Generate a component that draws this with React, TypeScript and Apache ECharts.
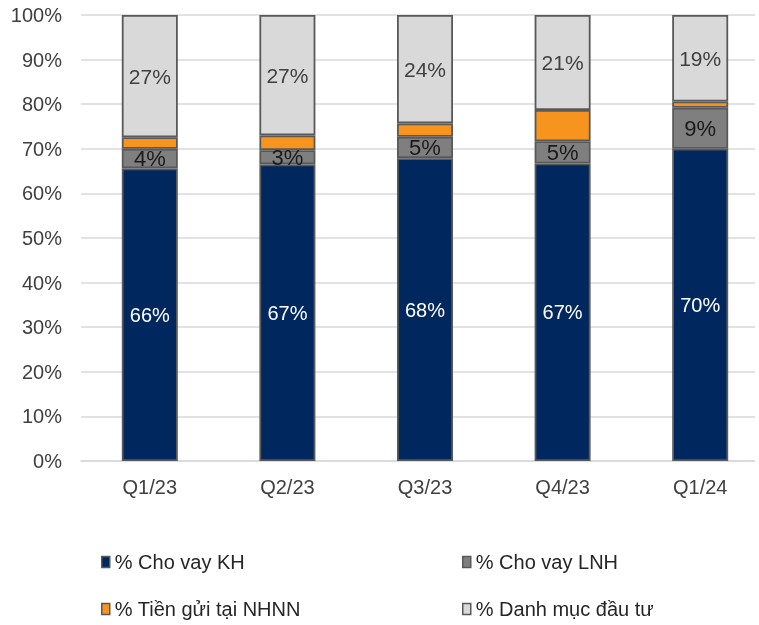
import React, { useEffect, useRef } from "react";
import * as echarts from "echarts";

// Asset structure by quarter (% of total), stacked to 100%
const quarters = ["Q1/23", "Q2/23", "Q3/23", "Q4/23", "Q1/24"];
const customerLoans = [65.6, 66.5, 67.9, 66.7, 70.0];
const interbankLoans = [4.4, 3.2, 4.8, 5.0, 9.2];
const sbvDeposits = [2.6, 3.3, 3.0, 7.0, 1.4];
const investments = [27.4, 27.0, 24.3, 21.3, 19.4];

const seriesNames = [
  "% Cho vay KH",
  "% Cho vay LNH",
  "% Tiền gửi tại NHNN",
  "% Danh mục đầu tư",
].map((s) => s.normalize("NFC"));

const yTicks = [0, 10, 20, 30, 40, 50, 60, 70, 80, 90, 100];

const FONT = "'Liberation Sans', Arial, sans-serif";
const BORDER = "#595959";

export default function App() {
  const ref = useRef<HTMLDivElement>(null);

  useEffect(() => {
    if (!ref.current) return;
    const chart = echarts.init(ref.current, undefined, { renderer: "svg" });

    const pctLabel = (color: string, fontSize = 20) => ({
      show: true,
      position: "inside" as const,
      color,
      fontSize,
      fontFamily: FONT,
      formatter: (p: any) => `${Math.round(p.value)}%`,
    });

    const seg = (name: string, data: number[], color: string, label: any) => ({
      name,
      type: "bar" as const,
      stack: "total",
      data,
      barWidth: 56,
      itemStyle: { color, borderColor: BORDER, borderWidth: 1.8 },
      label,
      emphasis: { disabled: true },
    });

    const legendText = {
      color: "#262626",
      fontSize: 20,
      fontFamily: FONT,
      lineHeight: 24,
    };
    const legendBase = {
      orient: "vertical" as const,
      top: 550,
      itemGap: 23,
      itemWidth: 8,
      itemHeight: 11,
      icon: "rect",
      textStyle: legendText,
      selectedMode: false,
      padding: 0,
    };
    const legendItem = (name: string) => ({
      name,
      itemStyle: { borderColor: BORDER, borderWidth: 1.5 },
    });

    chart.setOption({
      animation: false,
      grid: {
        left: 81,
        width: 688,
        top: 15,
        height: 446,
        containLabel: false,
        outerBoundsMode: "none",
      },
      xAxis: {
        type: "category",
        data: quarters,
        axisLine: { show: true, lineStyle: { color: "#D9D9D9", width: 1.5 } },
        axisTick: { show: false },
        axisLabel: {
          color: "#404040",
          fontSize: 20,
          fontFamily: FONT,
          margin: 16,
        },
      },
      yAxis: {
        type: "value",
        min: yTicks[0],
        max: yTicks[yTicks.length - 1],
        interval: 10,
        axisLine: { show: false },
        axisTick: { show: false },
        splitLine: { lineStyle: { color: "#D9D9D9", width: 1.5 } },
        axisLabel: {
          color: "#404040",
          fontSize: 20,
          fontFamily: FONT,
          margin: 19,
          formatter: (v: number) => `${v}%`,
        },
      },
      legend: [
        {
          ...legendBase,
          left: 101,
          data: [legendItem(seriesNames[0]), legendItem(seriesNames[2])],
        },
        {
          ...legendBase,
          left: 462,
          data: [legendItem(seriesNames[1]), legendItem(seriesNames[3])],
        },
      ],
      graphic: [
        {
          type: "rect",
          left: 755,
          top: 0,
          shape: { width: 20, height: 470 },
          style: { fill: "#ffffff" },
          z: 100,
          silent: true,
        },
      ],
      series: [
        seg(seriesNames[0], customerLoans, "#00285E", pctLabel("#ffffff")),
        seg(seriesNames[1], interbankLoans, "#7F7F7F", pctLabel("#1a1a1a", 22)),
        seg(seriesNames[2], sbvDeposits, "#F7941D", { show: false }),
        seg(seriesNames[3], investments, "#D9D9D9", pctLabel("#404040", 21)),
      ],
    });

    return () => chart.dispose();
  }, []);

  return (
    <div
      ref={ref}
      style={{ position: "fixed", left: 0, top: 0, width: 759, height: 625 }}
    />
  );
}
